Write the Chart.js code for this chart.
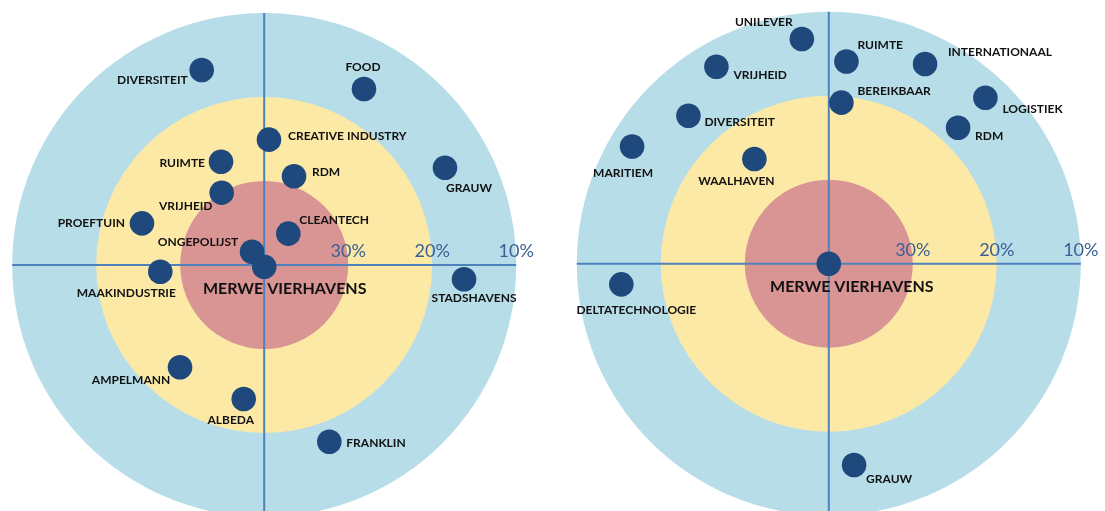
<!DOCTYPE html>
<html>
<head>
<meta charset="utf-8">
<script src="https://cdn.jsdelivr.net/npm/chart.js@4.4.0/dist/chart.umd.min.js"></script>
<style>
  html, body { margin: 0; padding: 0; background: #fff; }
  #wrap { position: relative; width: 1105px; height: 511px; overflow: hidden; }
  .pane { position: absolute; top: 0; height: 511px; }
</style>
</head>
<body>
<div id="wrap">
  <div class="pane" style="left:0;width:552px"><canvas id="leftChart"></canvas></div>
  <div class="pane" style="left:552px;width:553px"><canvas id="rightChart"></canvas></div>
</div>
<script>
// ring tick labels (percent), outer ring = 10%
const ringTicks = [30, 20, 10];
const ringMax = 40; // centre of the target

// left target
const leftNames = ["DIVERSITEIT", "FOOD", "CREATIVE INDUSTRY", "RUIMTE", "RDM", "GRAUW",
  "VRIJHEID", "PROEFTUIN", "CLEANTECH", "ONGEPOLIJST", "MERWE VIERHAVENS",
  "MAAKINDUSTRIE", "STADSHAVENS", "AMPELMANN", "ALBEDA", "FRANKLIN"];
const leftX = [-7.44, 11.88, 0.57, -5.14, 3.55, 21.52, -5.06, -14.55, 2.87, -1.45, 0, -12.37, 23.79, -10.02, -2.44, 7.75];
const leftY = [23.21, 20.95, 14.92, 12.30, 10.56, 11.58, 8.61, 4.96, 3.73, 1.58, -0.2, -0.80, -1.70, -12.18, -15.95, -21.04];

// right target
const rightNames = ["UNILEVER", "RUIMTE", "INTERNATIONAAL", "VRIJHEID", "BEREIKBAAR", "LOGISTIEK",
  "DIVERSITEIT", "RDM", "MARITIEM", "WAALHAVEN", "MERWE VIERHAVENS", "DELTATECHNOLOGIE", "GRAUW"];
const rightX = [-3.21, 2.10, 11.46, -13.38, 1.50, 18.64, -16.71, 15.39, -23.42, -8.86, 0, -24.70, 3.01];
const rightY = [26.75, 24.08, 23.77, 23.45, 19.17, 19.76, 17.62, 16.19, 13.96, 12.46, 0, -2.46, -23.96];

// label placement: [dx, dy, align] in px from the dot centre
const leftLabelPos = [[-14, 10, "right"], [-1, -22, "center"], [19, -4, "left"], [-16, 1, "right"],
  [18, -4, "left"], [24, 20, "center"], [-36, 13, "center"], [-17, 0, "right"], [11, -14, "left"],
  [-54, -10, "center"], [20.5, 22, "center"], [-34, 21, "center"], [10, 19, "center"],
  [-49, 13, "center"], [-13, 21, "center"], [17, 1, "left"]];
const rightLabelPos = [[-38, -17, "center"], [11, -16, "left"], [23, -12, "left"], [17, 8, "left"],
  [16, -12, "left"], [17, 11, "left"], [16, 6, "left"], [17, 8, "left"], [-9, 27, "center"],
  [-18, 22, "center"], [23, 23, "center"], [15, 26, "center"], [12, 14, "left"]];

const PX = 8.4;      // pixels per unit
const H = 511;

const ringColors = ["#b7dde8", "#fce9a6", "#d99594"];
const axisColor = "#4f81bd";
const dotColor = "#1f497d";

const targetPlugin = {
  id: "target",
  beforeDatasetsDraw(chart) {
    const ctx = chart.ctx;
    const xs = chart.scales.x, ys = chart.scales.y;
    const cx = xs.getPixelForValue(0), cy = ys.getPixelForValue(0);
    const unit = xs.getPixelForValue(1) - cx;
    const radii = ringTicks.map((t) => (ringMax - t) * unit).sort((a, b) => b - a);
    ctx.save();
    radii.forEach((r, i) => {
      ctx.beginPath();
      ctx.arc(cx, cy, r, 0, Math.PI * 2);
      ctx.fillStyle = ringColors[i];
      ctx.fill();
    });
    const R = radii[0];
    ctx.strokeStyle = axisColor;
    ctx.lineWidth = 2;
    ctx.beginPath();
    ctx.moveTo(cx - R, cy); ctx.lineTo(cx + R, cy);
    ctx.moveTo(cx, cy - R); ctx.lineTo(cx, cy + R);
    ctx.stroke();
    ctx.fillStyle = "#3b5f94";
    ctx.font = "18px Lato";
    ctx.textAlign = "center";
    ctx.textBaseline = "middle";
    ringTicks.forEach((t) => {
      ctx.fillText(t + "%", cx + (ringMax - t) * unit, cy - 13.5);
    });
    ctx.restore();
  },
  afterDatasetsDraw(chart, args, opts) {
    const ctx = chart.ctx;
    const meta = chart.getDatasetMeta(0);
    ctx.save();
    ctx.fillStyle = "#111";
    ctx.textBaseline = "middle";
    meta.data.forEach((pt, i) => {
      const name = opts.names[i];
      const p = opts.pos[i];
      ctx.font = name === "MERWE VIERHAVENS" ? "bold 16px Lato" : "bold 12px Lato";
      ctx.textAlign = p[2];
      ctx.fillText(name, pt.x + p[0], pt.y + p[1]);
    });
    ctx.restore();
  }
};

function makeTarget(id, width, cx, cy, xs, ys, names, pos) {
  const canvas = document.getElementById(id);
  canvas.width = width;
  canvas.height = H;
  canvas.style.width = width + "px";
  canvas.style.height = H + "px";
  return new Chart(canvas, {
    type: "scatter",
    data: {
      datasets: [{
        data: xs.map((x, i) => ({ x: x, y: ys[i] })),
        backgroundColor: dotColor,
        borderColor: dotColor,
        borderWidth: 0,
        pointRadius: 12.3,
        pointHoverRadius: 12.3,
      }],
    },
    options: {
      responsive: false,
      animation: false,
      events: [],
      layout: { padding: 0, autoPadding: false },
      plugins: {
        legend: { display: false },
        tooltip: { enabled: false },
        target: { names: names, pos: pos },
      },
      scales: {
        x: { type: "linear", display: false, min: -cx / PX, max: (width - cx) / PX },
        y: { type: "linear", display: false, min: -(H - cy) / PX, max: cy / PX },
      },
    },
    plugins: [targetPlugin],
  });
}

makeTarget("leftChart", 552, 264.2, 265, leftX, leftY, leftNames, leftLabelPos);
makeTarget("rightChart", 553, 276.8, 263.7, rightX, rightY, rightNames, rightLabelPos);
</script>
</body>
</html>
